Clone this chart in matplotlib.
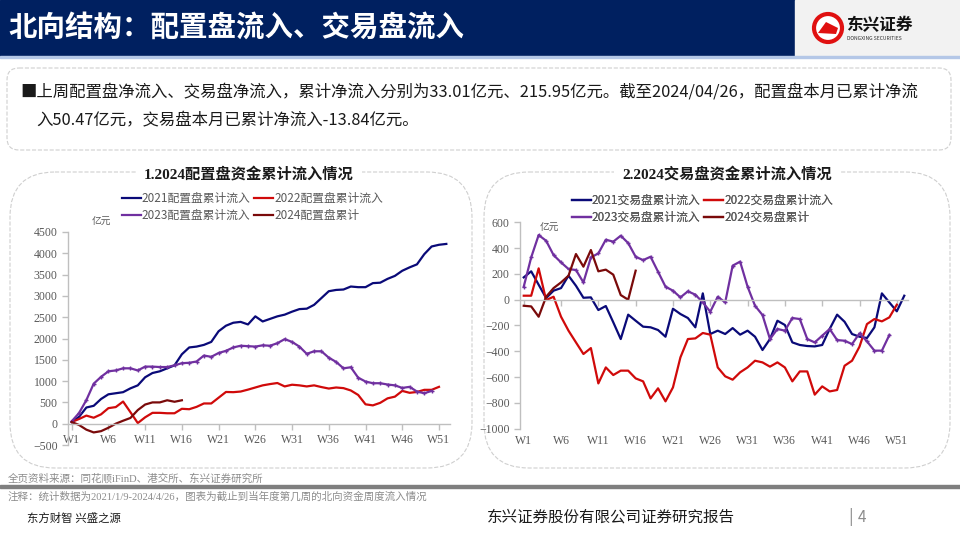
import matplotlib
matplotlib.use('Agg')
import matplotlib.pyplot as plt
from matplotlib.patches import Rectangle, FancyBboxPatch, Circle, Polygon
import numpy as np

plt.rcParams['font.family'] = ['Noto Sans CJK SC', 'DejaVu Sans']

# weekly cumulative northbound inflow, 亿元
weeks = [f'W{i}' for i in range(1, 53)]

cfg_2021 = [40, 160, 380, 420, 580, 690, 715, 740, 830, 900,
            1090, 1190, 1230, 1300, 1370, 1630, 1790, 1810, 1850, 1920,
            2170, 2300, 2370, 2390, 2330, 2520, 2400, 2460, 2520, 2560,
            2630, 2690, 2700, 2790, 2950, 3110, 3140, 3150, 3220, 3205,
            3205, 3300, 3310, 3400, 3470, 3590, 3670, 3740, 3980, 4160,
            4200, 4220]
cfg_2022 = [40, 110, 190, 140, 220, 365, 390, 520, 270, 15,
            150, 255, 255, 245, 245, 350, 340, 395, 475, 475,
            610, 745, 740, 755, 800, 850, 900, 930, 955, 875,
            915, 900, 875, 900, 860, 825, 850, 835, 780, 675,
            455, 430, 490, 595, 635, 770, 725, 745, 795, 795, 865]
cfg_2023 = [55, 250, 555, 940, 1100, 1230, 1250, 1300, 1300, 1250,
            1340, 1340, 1330, 1330, 1370, 1420, 1430, 1460, 1600, 1570,
            1660, 1710, 1790, 1830, 1820, 1810, 1840, 1830, 1890, 1985,
            1920, 1810, 1640, 1700, 1700, 1550, 1450, 1300, 1325, 1080,
            990, 950, 950, 920, 900, 840, 865, 755, 715, 770]
cfg_2024 = [40, -30, -140, -205, -175, -95, 0, 70, 135, 320,
            450, 500, 500, 550, 515, 550]

trd_2021 = [173, 220, 116, 13, 70, 90, 186, 108, 15, 18,
            -80, -49, -175, -305, -116, -163, -209, -214, -235, -287,
            -70, -111, -142, -214, 49, -266, -240, -266, -220, -271,
            -240, -287, -390, -305, -163, -196, -331, -351, -359, -362,
            -351, -227, -116, -171, -266, -287, -297, -214, 49, -21,
            -90, 31]
trd_2022 = [31, 31, 243, -3, 23, -132, -240, -331, -421, -375,
            -649, -525, -584, -550, -550, -610, -633, -765, -687, -788,
            -680, -447, -305, -300, -258, -271, -525, -594, -620, -563,
            -525, -473, -486, -519, -486, -525, -633, -556, -556, -736,
            -672, -711, -700, -512, -473, -364, -189, -150, -168, -137, -39]
trd_2023 = [101, 328, 501, 457, 346, 289, 238, 230, 134, 328,
            359, 465, 450, 496, 439, 333, 307, 333, 217, 101,
            70, 18, 65, 39, -21, -93, 23, -21, 264, 295,
            101, -47, -119, -305, -227, -240, -142, -150, -305, -331,
            -279, -227, -313, -318, -344, -261, -323, -395, -395, -274]
trd_2024 = [-47, -52, -132, 23, 90, 134, 186, 354, 256, 385,
            220, 233, 194, 36, 0, 225]

cfg_names = ['2021配置盘累计流入', '2022配置盘累计流入', '2023配置盘累计流入', '2024配置盘累计']
trd_names = ['2021交易盘累计流入', '2022交易盘累计流入', '2023交易盘累计流入', '2024交易盘累计']
colors = ['#0A0A78', '#D00A0A', '#7030A0', '#7A0A0A']

grey_txt = '#595959'
axis_grey = '#BFBFBF'
serif = ['Liberation Serif', 'Noto Sans CJK SC']

fig = plt.figure(figsize=(9.6, 5.4), dpi=100)

# background layer in pixel coordinates
bg = fig.add_axes([0, 0, 1, 1], zorder=0)
bg.set_xlim(0, 960)
bg.set_ylim(540, 0)
bg.axis('off')

# header
bg.add_patch(Rectangle((0, 0), 795, 56, color='#002060'))
bg.add_patch(Rectangle((795, 0), 165, 56, color='#F2F2F2'))
bg.add_patch(Rectangle((0, 56), 960, 2, color='#B4C7E7'))
bg.text(8, 28, '北向结构：配置盘流入、交易盘流入', color='white', fontsize=20.5,
        weight='bold', va='center')

# logo
bg.add_patch(Circle((828, 28), 14, fc='white', ec='#E01010', lw=3))
bg.add_patch(Polygon([[818, 33], [826, 22], [838, 28], [836, 34]], closed=True,
                     fc='#E01010', ec='none'))
bg.text(846, 25, '东兴证券', fontsize=12, weight='bold', color='#111111', va='center')
bg.text(847, 38, 'DONGXING SECURITIES', fontsize=3.6, color='#333333', va='center')

# summary box
bg.add_patch(FancyBboxPatch((7, 68), 944, 82, boxstyle='round,pad=0,rounding_size=12',
                            fc='none', ec='#CFCFCF', lw=0.8, ls='--'))
bg.text(20, 92, '■上周配置盘净流入、交易盘净流入，累计净流入分别为33.01亿元、215.95亿元。'
        '截至2024/04/26，配置盘本月已累计净流', fontsize=11.8, va='center', color='#1A1A1A')
bg.text(36, 121, '入50.47亿元，交易盘本月已累计净流入-13.84亿元。', fontsize=11.8,
        va='center', color='#1A1A1A')

# chart panels
for x0, x1, title, cx in [(10, 472, '1.2024配置盘资金累计流入情况', 249),
                          (484, 950, '2.2024交易盘资金累计流入情况', 727)]:
    bg.add_patch(FancyBboxPatch((x0, 172), x1 - x0, 296,
                                boxstyle='round,pad=0,rounding_size=45',
                                fc='none', ec='#CFCFCF', lw=0.8, ls='--'))
    bg.text(cx, 174, title, ha='center', va='center', fontsize=11, weight='bold',
            family=serif, color='#1A1A1A',
            bbox=dict(fc='white', ec='none', pad=6))

bg.text(92, 222, '亿元', fontsize=7, color=grey_txt, va='center')
bg.text(540, 228, '亿元', fontsize=7, color=grey_txt, va='center')

# footer
bg.text(8, 478, '全页资料来源：同花顺iFinD、港交所、东兴证券研究所', fontsize=7.6,
        color='#8C8C8C', va='center', family=serif)
bg.add_patch(Rectangle((0, 485), 960, 3, color='#7F7F7F'))
bg.text(8, 497, '注释：统计数据为2021/1/9-2024/4/26，图表为截止到当年度第几周的北向资金周度流入情况',
        fontsize=7.6, color='#8C8C8C', va='center', family=serif)
bg.text(27, 518, '东方财智 兴盛之源', fontsize=8.2, color='#1A1A1A', va='center', family=serif)
bg.text(487, 517, '东兴证券股份有限公司证券研究报告', fontsize=11.2, color='#1A1A1A', va='center')
bg.text(848, 517, '|', fontsize=12, color='#8C8C8C', va='center')
bg.text(858, 517, '4', fontsize=11, color='#8C8C8C', va='center')


def style_axis(ax, ylim, ystep):
    ax.set_facecolor('none')
    ax.set_xlim(-0.5, 51.5)
    ax.set_ylim(*ylim)
    ax.set_yticks(np.arange(ylim[0], ylim[1] + 1, ystep))
    for s in ['top', 'right']:
        ax.spines[s].set_visible(False)
    for s in ['left', 'bottom']:
        ax.spines[s].set_color(axis_grey)
        ax.spines[s].set_linewidth(1)
    ax.spines['bottom'].set_position(('data', 0))
    ax.tick_params(axis='both', colors=axis_grey, length=4, width=1,
                   labelcolor=grey_txt, labelsize=8.5)
    for lab in ax.get_yticklabels():
        lab.set_family(serif)
    ax.set_xticks(range(0, 52, 5))


def draw_lines(ax, series, names):
    x_all = np.arange(len(weeks))
    hs = []
    for data, name, c in zip(series, names, colors):
        kw = {}
        if c == '#7030A0':
            kw = dict(marker='+', ms=3.5, mew=1)
        h, = ax.plot(x_all[:len(data)], data, color=c, lw=1.6, label=name, **kw)
        hs.append(h)
    return hs


# left chart
ax1 = fig.add_axes([68 / 960, 1 - 445 / 540, 382 / 960, 213 / 540], zorder=2)
style_axis(ax1, (-500, 4500), 500)
ax1.set_xticklabels(weeks[::5], family=serif)
h1 = draw_lines(ax1, [cfg_2021, cfg_2022, cfg_2023, cfg_2024], cfg_names)

# right chart
ax2 = fig.add_axes([520 / 960, 1 - 428.7 / 540, 388 / 960, 206.4 / 540], zorder=2)
style_axis(ax2, (-1000, 600), 200)
ax2.set_xticklabels([])
for i in range(0, 52, 5):
    ax2.text(i, -0.03, weeks[i], transform=ax2.get_xaxis_transform(), ha='center',
             va='top', fontsize=8.5, color=grey_txt, family=serif)
h2 = draw_lines(ax2, [trd_2021, trd_2022, trd_2023, trd_2024], trd_names)

# legends (2 columns, row order 2021/2022 then 2023/2024)
for hs, anchor in [(h1, (116, 186)), (h2, (566, 188))]:
    order = [hs[0], hs[2], hs[1], hs[3]]
    leg = bg.legend(order, [h.get_label() for h in order], ncol=2, loc='upper left',
                    bbox_to_anchor=anchor, bbox_transform=bg.transData, frameon=False,
                    fontsize=8.5, handlelength=1.6, handletextpad=0.1,
                    columnspacing=0.3, labelspacing=0.35, borderpad=0)
    for t in leg.get_texts():
        t.set_color(grey_txt)
    for lh in leg.legend_handles:
        lh.set_marker('')
    bg.add_artist(leg)

fig.savefig('out.png', dpi=100)
